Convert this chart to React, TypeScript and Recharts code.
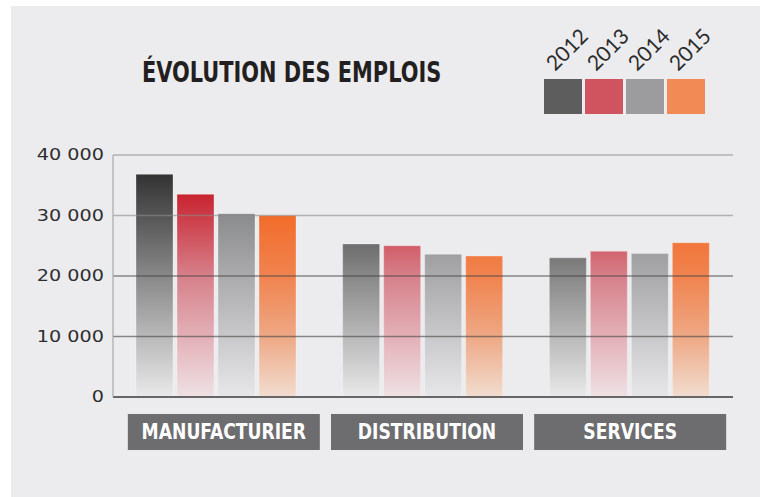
import React from 'react';
import { BarChart, Bar, XAxis, YAxis, ReferenceLine } from 'recharts';

const categories = ['MANUFACTURIER', 'DISTRIBUTION', 'SERVICES'];
const years = ['2012', '2013', '2014', '2015'];
const emplois2012 = [36800, 25300, 23000];
const emplois2013 = [33500, 25000, 24100];
const emplois2014 = [30300, 23600, 23700];
const emplois2015 = [30000, 23300, 25500];
const yTicks = [0, 10000, 20000, 30000, 40000];
const edgeTicks = [0, 1, 2, 3];

const legendColors = ['#5d5d5d', '#d05460', '#9c9c9f', '#f28a55'];

// gradient stops per year (offset, colour), top of plot -> baseline
const gradients: [number, string][][] = [
  [[0, '#262626'], [0.08, '#333333'], [0.5, '#888888'], [1, '#e9e9ea']],
  [[0, '#c21a28'], [0.16, '#c8222f'], [0.5, '#d6808a'], [0.75, '#e3b0b7'], [1, '#eee1e4']],
  [[0, '#6e6f71'], [0.24, '#8a8b8d'], [1, '#e7e7e9']],
  [[0, '#f26426'], [0.25, '#f26c2b'], [0.5, '#f0834f'], [0.75, '#eea885'], [1, '#f1ddd0']],
];

const data = categories.map((name, i) => ({
  name,
  y2012: emplois2012[i],
  y2013: emplois2013[i],
  y2014: emplois2014[i],
  y2015: emplois2015[i],
}));

const fmt = (v: number) => (v === 0 ? '0' : `${Math.round(v / 1000)} 000`);

const narrow = "'Liberation Sans Narrow', 'DejaVu Sans Condensed', sans-serif";

const CategoryTick = (props: any) => {
  const { x, y, payload, index } = props;
  const cx = x + 7.5 - 3.5 * index;
  return (
    <g>
      <rect x={cx - 96} y={y + 9} width={192} height={36} fill="#6d6d70" />
      <text
        transform={`translate(${cx} ${y + 34}) scale(0.91 1)`}
        textAnchor="middle"
        fill="#ffffff"
        fontFamily={narrow}
        fontWeight="bold"
        fontSize={21}
      >
        {payload.value}
      </text>
    </g>
  );
};

const ValueTick = (props: any) => {
  const { x, y, payload } = props;
  return (
    <text
      transform={`translate(${x - 1} ${y}) scale(1.28 1)`}
      dy="0.36em"
      textAnchor="end"
      fill="#2e2e2e"
      fontFamily="'DejaVu Sans', sans-serif"
      fontSize={15}
    >
      {fmt(payload.value)}
    </text>
  );
};

export default function App() {
  const keys = ['y2012', 'y2013', 'y2014', 'y2015'];
  return (
    <div style={{ position: 'absolute', left: 0, top: 0, width: 760, height: 497, background: '#ffffff' }}>
      <div style={{ position: 'absolute', left: 11, top: 6, width: 749, height: 491, background: '#ececee' }} />
      <div style={{ position: 'absolute', left: 0, top: 0 }}>
        <BarChart
          width={760}
          height={497}
          data={data}
          margin={{ top: 155, right: 27, left: 0, bottom: 40 }}
          barCategoryGap={23}
          barGap={4}
        >
          <defs>
            {gradients.map((stops, i) => (
              <linearGradient
                key={i}
                id={`grad-${i}`}
                gradientUnits="userSpaceOnUse"
                x1="0"
                y1="155"
                x2="0"
                y2="397"
              >
                {stops.map(([o, c], j) => (
                  <stop key={j} offset={o} stopColor={c} />
                ))}
              </linearGradient>
            ))}
          </defs>
          <XAxis
            dataKey="name"
            height={60}
            axisLine={{ stroke: '#3a3a3a', strokeWidth: 1.5 }}
            tickLine={false}
            tick={<CategoryTick />}
            interval={0}
          />
          <XAxis
            xAxisId="edges"
            type="number"
            domain={[0, 3]}
            ticks={edgeTicks}
            allowDataOverflow
            mirror
            height={0}
            axisLine={false}
            tickLine={{ stroke: '#3a3a3a', strokeWidth: 1.5 }}
            tickSize={5}
            tickFormatter={() => ''}
          />
          <YAxis
            width={113}
            domain={[0, 40000]}
            ticks={yTicks}
            interval={0}
            axisLine={{ stroke: '#a8a8a8', strokeWidth: 1.2 }}
            tickLine={false}
            tick={<ValueTick />}
          />
          {keys.map((k, i) => (
            <Bar
              key={k}
              dataKey={k}
              name={years[i]}
              fill={`url(#grad-${i})`}
              stroke="#ffffff"
              strokeOpacity={0.3}
              strokeWidth={1}
              isAnimationActive={false}
            />
          ))}
          {yTicks
            .filter(v => v > 0)
            .map(v => (
              <ReferenceLine
                key={v}
                y={v}
                stroke={v > 20000 ? '#8a8a8a' : '#444444'}
                strokeOpacity={0.6}
                strokeWidth={1.3}
              />
            ))}
        </BarChart>
      </div>
      <svg
        width={760}
        height={497}
        style={{ position: 'absolute', left: 0, top: 0, pointerEvents: 'none' }}
      >
        <text
          transform="translate(142 82) scale(0.83 1)"
          fill="#231f20"
          fontFamily={narrow}
          fontWeight="bold"
          fontSize={28}
        >
          ÉVOLUTION DES EMPLOIS
        </text>
        {years.map((yr, i) => (
          <g key={yr}>
            <rect x={544 + i * 41} y={79} width={38} height={35} fill={legendColors[i]} />
            <text
              x={555 + i * 41}
              y={72}
              transform={`rotate(-45 ${555 + i * 41} 72)`}
              fill="#2b2b2b"
              fontFamily="Lato, 'DejaVu Sans', sans-serif"
              fontWeight={400}
              fontSize={21}
            >
              {yr}
            </text>
          </g>
        ))}
      </svg>
    </div>
  );
}
